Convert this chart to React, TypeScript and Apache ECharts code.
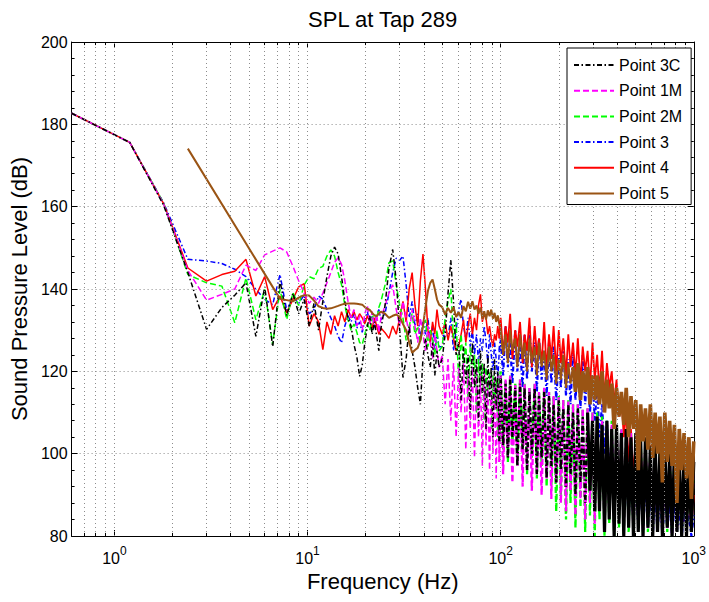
import React, { useEffect, useRef } from 'react';
import * as echarts from 'echarts';

// Frequency grid (Hz)
const freqLow = [0.6,1.2,1.8,2.4,3.0,3.6,4.2,4.8,5.4,6.0,6.6,7.2,7.8,8.4,9.0,9.6,10.2,10.8,11.4,12.0,12.6,13.2,13.8,14.4,15.0,15.6,16.2,16.8,17.4,18.0,18.6,19.2,19.8,20.4,21.0,21.6,22.2,22.8,23.4,24.0];
const freqMid = [25.2,26.4,27.6,28.8,30.0,31.2,32.4,33.6,34.8,36.0,37.2,38.4,39.6,40.8,42.0,43.2,44.4,45.6,46.8,48.0,49.8,51.6,53.4,55.2,57.0,58.8,60.6,62.4,64.2,66.0,67.8,69.6,71.4,73.2,75.0,76.8,78.6,80.4,82.2,84.0,85.8,87.6,89.4,91.2,93.0,94.8,96.6,98.4];
const freqHigh = [100,103,106,109,112,115,119,122,126,130,133,137,141,145,150,154,158,163,168,173,178,183,188,194,200,205,211,218,224,230,237,244,251,259,266,274,282,290,299,307,316,325,335,345,355,365,376,387,398,410,422,434,447,460,473,487,501,516,531,546,562,579,596,613,631,649,668,688,708,729,750,772,794,818,841,866,891,917,944,972,1000];

// Point 3C (dB)
const p3cLow = [182.7,175.6,160.3,144.0,130.2,135.5,138.5,141.5,128.5,140.5,126.0,142.0,133.5,139.0,134.0,137.5,131.0,136.5,130.0,137.0,143.0,148.0,150.2,148.5,143.0,137.0,133.0,131.0,126.5,123.5,118.8,121.5,127.0,131.0,133.5,129.0,132.0,128.5,125.0,130.5,136,145,149.6,142,130,118.5,123,131,125,121,116,112,123,128,124,121,127,119,125,121,123,129,139,147,137,124,127,113,126,117,124,110,127,116,123,108,125,114,122,106,124,113,121,104,123,111,120,103];
const p3cHigh = [119,102,117,99,118,104,116,97,117,101,116,96,115,100,116,95,114,99,115,94,114,97,112,93,113,96,111,92,112,95,110,90,111,93,109,88,110,91,108,86,109,86,107,81,108,84,106,80,107,83,105,80,106,82,104,80,105,81,103,80,104,82,102,80,103,81,101,80,102,82,100,80,101,81,99,80,100,80,99,81,98];

// Point 1M
const p1mLow = [182.7,175.6,160.6,144.5,137.3,138.7,140.0,145.8,144.5,148.3,149.2,150.0,149.0,145.5,142.0,139.0,136.5,138.0,136.5,139.0,141.5,144.0,146.5,147.6,146.0,142.0,137.0,133.0,135.0,131.0,133.5,130.0,134.0,136.0,131.5,134.5,130.5,134.0,129.5,133.0,136,139,141,135,131,137,133,129,135,131,127,133,129,125,131,127,123,129,125,121,124,112,123,108,122,104,121,110,122,101,120,106,121,99,120,104,119,97,120,102,118,96,119,100,118,94,119,98];
const p1mHigh = [119,95,118,99,119,93,117,97,118,92,117,96,116,91,117,95,115,90,116,94,115,89,114,93,114,88,113,86,113,91,112,85,112,89,111,84,111,88,110,83,109,87,108,82,108,86,107,81,107,85,106,81,105,84,105,80,104,83,103,80,103,82,102,80,102,81,101,80,100,82,100,80,99,81,99,80,98,80,98,81,97];

// Point 2M
const p2mLow = [182.7,175.6,160.8,143.5,141.5,140.7,131.8,142.7,132.5,139.9,126.5,139.9,132.6,139.1,136.0,141.0,143.0,142.5,145.0,145.5,148.0,149.5,148.0,144.0,141.0,136.0,132.5,130.0,131.5,129.5,127.0,126.5,129.0,131.5,130.0,133.0,134.0,132.5,135.5,137.0,141,146.4,146.8,141,136,133,127.5,131,134,129,131,127,131,132.5,126,130,128,124,130,125,126,133,137,140,128,132,118,129,121,127,113,126,119,124,110,123,116,122,108,121,114,120,106,119,112,118,104,117];
const p2mHigh = [120,101,118,98,119,102,117,97,118,100,117,95,116,99,117,94,115,97,116,92,115,92,114,86,114,90,113,84,113,88,112,82,112,87,111,81,111,85,110,80,110,84,109,80,108,83,108,80,107,82,106,80,106,81,105,80,104,82,104,80,103,81,102,80,102,82,101,80,100,81,100,80,99,81,99,80,98,80,97,81,97];

// Point 3
const p3Low = [182.7,175.6,160.9,147.2,146.8,146.2,144.8,143.0,139.9,137.5,136.2,143.5,134.8,138.0,136.5,138.5,134.0,135.0,138.3,137.5,135.0,133.0,131.0,128.5,126.9,131.0,133.5,132.0,134.0,130.5,132.0,129.5,132.5,134.5,132.0,134.0,131.0,133.5,135.0,132.5,134,139,144,147.5,147,148,141,133,137,131,134,128,132,129,133,127,131,125,129,126,126,131,128,133,125,130,135,137.5,131,128,133,126,130,124,129,122,128,125,131,127,122,129,124,120,127,123,118,125];
const p3High = [128,119,131,121,127,117,130,120,126,116,129,118,131,120,127,115,128,118,125,114,127,117,126,113,124,116,126,114,123,112,125,113,122,111,124,112,121,110,119,108,116,104,112,100,108,95,104,92,101,88,99,86,97,84,96,83,95,82,94,81,93,82,92,80,91,81,90,80,89,82,88,80,88,81,87,80,86,82,85,80,85];

// Point 4
const p4Low = [182.7,175.6,160.7,145.1,141.9,143.5,144.3,147.2,138.3,143.0,135.0,138.3,134.2,137.5,140.5,141.3,131.0,134.0,132.0,125.3,132.0,129.0,133.5,131.0,134.5,132.0,135.0,133.0,134.5,132.5,134.0,133.0,131.5,133.5,132.0,130.5,133.0,131.0,129.0,130.5,129.4,128,131,129,133,137,132,140,144,136,131,142,148.5,140,130,127,132,129,135,131,129,132,127.5,131,128,125,126,129,132.5,127,131,134,129,133,130,136,138.7,132,134,133,129,131,128,126,129,127.5,131,128];
const p4High = [133,124,131,127,134,123,130,126,132,122,129,125,133,121,131,124,128,122,132,120,129,123,131,120,130,122,128,119,129,121,127,119,128,117,126,120,125,116,127,118,124,115,125,113,122,116,120,112,118,109,114,104,110,98,106,95,103,92,101,90,99,89,98,88,97,87,96,86,95,85,94,85,93,84,92,83,91,84,90,82,90];

// Point 5
const p5Low = [null,null,null,174.1,null,null,null,null,null,null,null,137.6,137.3,137.0,137.9,138.5,138.4,137.2,135.8,135.4,135.2,135.3,135.6,135.9,136.2,136.4,136.5,136.5,136.5,136.4,136.3,136.2,135.6,135.2,134.9,134.2,133.6,133.4,134.0,134.5,134.0,133.0,133.5,133.8,133.2,131.5,130.0,127.0,124.5,125.2,125.7,127.5,131.0,135.5,139.5,141.5,142.3,140.0,137.5,136.2,135.6,133.8,135.4,134.2,135.6,133.2,134.4,133.0,135.8,134.6,136.9,135.2,137.0,135.0,136.0,134.0,135.5,132.8,134.6,132.6,134.8,133.4,135.0,132.8,134.2,132.0,133.6,131.5];
const p5High = [130,124,129,122,130,125,128,121,129,123,127,120,128,122,126,119,127,121,125,118,126,120,124,117,123,118,124,116,122,117,121,115,122,113,120,115,121,112,119,113,119,112,120,110,118,111,117,106,116,109,115,107,116,104,114,106,113,96,112,103,111,101,112,99,110,100,109,93,110,98,108,97,107,88,106,96,105,94,104,89,103];

const legendOrder = ['Point 3C', 'Point 1M', 'Point 2M', 'Point 3', 'Point 4', 'Point 5'];

// log grid lines and minor ticks
const gridFreqs = [0.7,0.8,0.9,1,2,3,4,5,6,7,8,9,10,20,30,40,50,60,70,80,90,100,200,300,400,500,600,700,800,900];
const minorTickFreqs = [0.7,0.8,0.9,2,3,4,5,6,7,8,9,20,30,40,50,60,70,80,90,200,300,400,500,600,700,800,900];

const FONT = '"Liberation Sans", Arial, Helvetica, sans-serif';
const freqLM = [...freqLow, ...freqMid];

const dashDot = [5, 2.5, 1.5, 2.5];
const dashed = [6, 3];

// draw order (bottom -> top); hf: pieces of the high-frequency part [fromIdx, toIdx, width, style]
const seriesDefs = [
  { name: 'Point 3', color: '#0000ff', type: dashDot, width: 1.5, low: p3Low, high: p3High, hf: [[0, 80, 2.2, dashDot]] },
  { name: 'Point 4', color: '#ff0000', type: 'solid', width: 1.5, low: p4Low, high: p4High, hf: [[0, 80, 1.8, 'solid']] },
  { name: 'Point 2M', color: '#00ff00', type: dashed, width: 1.5, low: p2mLow, high: p2mHigh, hf: [[0, 80, 2.3, dashed]] },
  { name: 'Point 1M', color: '#ff00ff', type: dashed, width: 1.5, low: p1mLow, high: p1mHigh, hf: [[0, 80, 2.3, dashed]] },
  { name: 'Point 3C', color: '#000000', type: dashDot, width: 1.5, low: p3cLow, high: p3cHigh, hf: [[0, 36, 2.4, dashDot], [36, 80, 3.2, 'solid']] },
  { name: 'Point 5', color: '#9a5414', type: 'solid', width: 2, low: p5Low, high: p5High, hf: [[0, 30, 2, 'solid'], [30, 80, 3.6, 'solid']] },
];

function xLabel(v: number) {
  const l = Math.log10(v);
  const r = Math.round(l);
  if (Math.abs(l - r) < 1e-6 && r >= 0) return `{b|10}{s|${r}}`;
  return '';
}

export default function App() {
  const ref = useRef<HTMLDivElement>(null);
  useEffect(() => {
    if (!ref.current) return;
    const chart = echarts.init(ref.current, null, { renderer: 'svg' });
    const gridLineStyle = { color: '#8c8c8c', width: 1, type: [1, 3] as any };
    const lowSeries = seriesDefs.map((s) => ({
      name: s.name,
      type: 'line',
      data: freqLM.map((f, i) => [f, s.low[i]]),
      symbol: 'none',
      connectNulls: true,
      lineStyle: { color: s.color, width: s.width, type: s.type as any },
      itemStyle: { color: s.color },
      silent: true,
      clip: true,
    }));
    const highSeries: any[] = [];
    seriesDefs.forEach((s) => {
      const pts = [[freqLM[freqLM.length - 1], s.low[s.low.length - 1]], ...freqHigh.map((f, i) => [f, s.high[i]])];
      (s.hf as any[]).forEach(([a, b, w, t]) => {
        highSeries.push({
          name: s.name,
          type: 'line',
          data: pts.slice(a === 0 ? 0 : a + 1, b + 2),
          symbol: 'none',
          lineStyle: { color: s.color, width: w, type: t },
          itemStyle: { color: s.color },
          silent: true,
          clip: true,
        });
      });
    });
    const option: any = {
      animation: false,
      backgroundColor: '#ffffff',
      textStyle: { fontFamily: FONT },
      grid: { left: 70, top: 42, width: 627, height: 494, containLabel: false },
      legend: {
        data: legendOrder,
        orient: 'vertical',
        left: 567,
        top: 48,
        backgroundColor: '#ffffff',
        borderColor: '#000000',
        borderWidth: 1,
        borderRadius: 0,
        padding: [9, 9, 3, 6],
        itemWidth: 40,
        itemHeight: 14,
        itemGap: 9.7,
        itemStyle: { opacity: 0 },
        textStyle: { fontSize: 16, color: '#000', fontFamily: FONT },
        z: 20,
      },
      xAxis: [
        {
          type: 'log', logBase: 10, min: 0.6, max: 1000, position: 'bottom',
          axisLine: { show: true, onZero: false, lineStyle: { color: '#000', width: 1 } },
          axisTick: { show: true, inside: true, length: 6, lineStyle: { color: '#000' } },
          axisLabel: {
            formatter: xLabel, margin: 9, color: '#000',
            rich: {
              b: { fontSize: 16, color: '#000', fontFamily: FONT, verticalAlign: 'bottom' },
              s: { fontSize: 12, color: '#000', fontFamily: FONT, verticalAlign: 'bottom', padding: [0, 0, 9, 0] },
            },
          },
          splitLine: { show: false },
          name: 'Frequency (Hz)', nameLocation: 'middle', nameGap: 33,
          nameTextStyle: { fontSize: 22, color: '#000', fontFamily: FONT },
        },
        {
          type: 'log', logBase: 10, min: 0.6, max: 1000, position: 'top',
          axisLine: { show: true, onZero: false, lineStyle: { color: '#000', width: 1 } },
          axisTick: { show: true, inside: true, length: 6, lineStyle: { color: '#000' } },
          axisLabel: { show: false },
          splitLine: { show: false },
          name: 'SPL at Tap 289', nameLocation: 'middle', nameGap: 12,
          nameTextStyle: { fontSize: 22, color: '#000', fontFamily: FONT },
        },
      ],
      yAxis: [
        {
          type: 'value', min: 80, max: 200, interval: 20, position: 'left',
          axisLine: { show: true, onZero: false, lineStyle: { color: '#000', width: 1 } },
          axisTick: { show: true, inside: true, length: 6, lineStyle: { color: '#000' } },
          minorTick: { show: true, splitNumber: 5, length: 3, lineStyle: { color: '#000' } },
          axisLabel: { fontSize: 16, color: '#000', margin: 4, fontFamily: FONT },
          splitLine: { show: true, lineStyle: gridLineStyle },
          name: 'Sound Pressure Level (dB)', nameLocation: 'middle', nameGap: 32,
          nameTextStyle: { fontSize: 22, color: '#000', fontFamily: FONT },
        },
        {
          type: 'value', min: 80, max: 200, interval: 20, position: 'right',
          axisLine: { show: true, onZero: false, lineStyle: { color: '#000', width: 1 } },
          axisTick: { show: true, inside: true, length: 6, lineStyle: { color: '#000' } },
          minorTick: { show: true, splitNumber: 5, length: 3, lineStyle: { color: '#000' } },
          axisLabel: { show: false },
          splitLine: { show: false },
        },
      ],
      series: [
        {
          type: 'line', data: [], silent: true, z: 1,
          markLine: {
            silent: true, symbol: ['none', 'none'], label: { show: false }, animation: false,
            lineStyle: gridLineStyle,
            data: gridFreqs.map((f) => ({ xAxis: f })),
          },
        },
        {
          type: 'line', data: [], silent: true, z: 1,
          markLine: {
            silent: true, symbol: ['none', 'none'], label: { show: false }, animation: false,
            lineStyle: { color: '#000', width: 1, type: 'solid' },
            data: [
              ...minorTickFreqs.map((f) => [{ coord: [f, 80] }, { coord: [f, 80.75] }]),
              ...minorTickFreqs.map((f) => [{ coord: [f, 200] }, { coord: [f, 199.25] }]),
            ],
          },
        },
        ...lowSeries,
        ...highSeries,
      ],
    };
    chart.setOption(option);
    return () => chart.dispose();
  }, []);
  return (
    <div
      ref={ref}
      style={{ position: 'absolute', left: 0, top: 0, width: 709, height: 602, background: '#fff' }}
    />
  );
}
